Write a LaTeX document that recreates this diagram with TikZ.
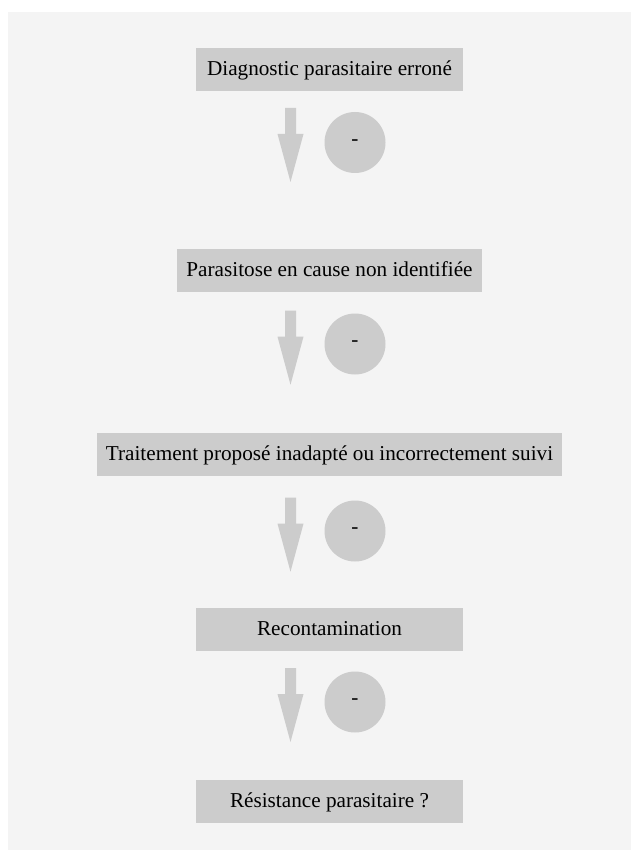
\documentclass[tikz,border=0pt]{standalone}
\usepackage{fontspec}
\setmainfont{Liberation Serif}
\definecolor{fondgris}{HTML}{F4F4F4}
\definecolor{boitegris}{HTML}{CCCCCC}
\tikzset{
  etape/.style={fill=boitegris, minimum width=133.5pt, minimum height=21.5pt,
    inner xsep=4.5pt, text height=0.82em, text depth=0.21em},
  moins/.style={circle, fill=boitegris, minimum size=30.5pt, inner sep=0pt},
}
\begin{document}
\begin{tikzpicture}[x=0.5pt, y=-0.5pt, font=\fontsize{10.6}{12.7}\selectfont]
	\useasboundingbox (0,0) rectangle (631,850);
	\fill[fondgris] (8,12) rectangle (631,850);
	% les etapes
	\node[etape] (e1) at (329.5,69.5) {Diagnostic parasitaire erroné};
	\node[etape] (e2) at (329.5,270.5) {Parasitose en cause non identifiée};
	\node[etape] (e3) at (329.5,454) {Traitement proposé inadapté ou incorrectement suivi};
	\node[etape] (e4) at (329.5,629.5) {Recontamination};
	\node[etape] (e5) at (329.5,801.3) {Résistance parasitaire ?};
	% fleches et signes
	\foreach \y/\c/\n in {108/142.5/1, 310.7/344/2, 497.7/531/3, 668/702/4}{
		\fill[boitegris] (285,\y) -- ++(11,0) -- ++(0,26) -- ++(7.5,0) -- ++(-13,48)
			-- ++(-13,-48) -- ++(7.5,0) -- cycle;
		\node[moins] (m\n) at (355,\c) {-};
	}
\end{tikzpicture}
\end{document}
